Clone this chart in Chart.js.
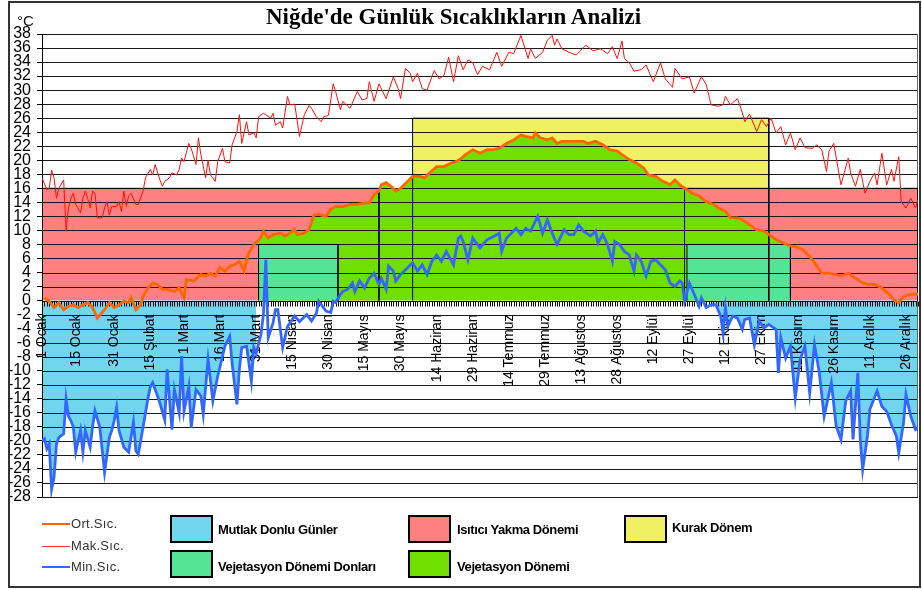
<!DOCTYPE html>
<html>
<head>
<meta charset="utf-8">
<script src="https://cdn.jsdelivr.net/npm/chart.js@4.4.1/dist/chart.umd.min.js"></script>
<style>
html,body{margin:0;padding:0;background:#fff;}
#wrap{position:relative;width:922px;height:590px;overflow:hidden;background:#fff;}
#c{position:absolute;left:0;top:0;}
#frame{position:absolute;left:8px;top:1px;width:909px;height:583px;border:2px solid #333;pointer-events:none;}
#title{position:absolute;left:0;width:907px;top:4px;text-align:center;font:bold 23px "Liberation Serif","Times New Roman",serif;line-height:26px;color:#000;}
#unit{position:absolute;left:17px;top:12px;font:15px "Liberation Sans",Arial,sans-serif;color:#111;}
.ll{position:absolute;left:42px;width:28px;}
.lt{position:absolute;left:71px;font:13px "Liberation Sans",Arial,sans-serif;color:#333;line-height:16px;letter-spacing:0.3px;}
.bx{position:absolute;width:39px;height:24px;border:2px solid #000;}
.bt{position:absolute;font:bold 13px "Liberation Sans",Arial,sans-serif;color:#000;letter-spacing:-0.4px;line-height:16px;}
</style>
</head>
<body>
<div id="wrap">
<canvas id="c" width="922" height="590"></canvas>
<div id="title">Niğde'de Günlük Sıcaklıkların Analizi</div>
<div id="unit">°C</div>
<div class="ll" style="top:523px;height:2px;background:#FF6600"></div>
<div class="lt" style="top:516px">Ort.Sıc.</div>
<div class="ll" style="top:546px;height:1px;background:#FF3030"></div>
<div class="lt" style="top:538px">Mak.Sıc.</div>
<div class="ll" style="top:566px;height:2px;background:#3366FF"></div>
<div class="lt" style="top:559px">Min.Sıc.</div>
<div class="bx" style="left:170px;top:515px;background:#72D5EE"></div>
<div class="bt" style="left:218px;top:522px">Mutlak Donlu Günler</div>
<div class="bx" style="left:170px;top:550px;background:#55E397"></div>
<div class="bt" style="left:218px;top:559px">Vejetasyon Dönemi Donları</div>
<div class="bx" style="left:408px;top:515px;background:#FF8080"></div>
<div class="bt" style="left:457px;top:522px">Isıtıcı Yakma Dönemi</div>
<div class="bx" style="left:408px;top:550px;background:#70E000"></div>
<div class="bt" style="left:457px;top:559px">Vejetasyon Dönemi</div>
<div class="bx" style="left:624px;top:515px;background:#F0F062"></div>
<div class="bt" style="left:672px;top:520px">Kurak Dönem</div>
<div id="frame"></div>
</div>
<script>
// ---- Data (day of year 1..365, °C) ----
const tickDays = [1,15,31,46,60,75,90,105,120,135,150,165,180,195,210,225,240,255,270,285,300,315,330,345,360];
const tickLabels = ['1 Ocak','15 Ocak','31 Ocak','15 Şubat','1 Mart','16 Mart','31 Mart','15 Nisan','30 Nisan','15 Mayıs','30 Mayıs','14 Haziran','29 Haziran','14 Temmuz','29 Temmuz','13 Ağustos','28 Ağustos','12 Eylül','27 Eylül','12 Ekim','27 Ekim','11 Kasım','26 Kasım','11 Aralık','26 Aralık'];

const avgDays = [2,4,6,8,10,12,14,16,18,20,22,24,27,29,31,33,35,37,38,40,42,43,45,47,49,51,53,56,58,60,61,64,67,69,71,73,75,77,79,81,83,85,86,87,89,91,92,93,95,97,100,102,104,106,107,110,112,114,116,119,121,123,126,129,132,135,137,139,141,142,144,146,148,150,153,155,158,160,162,165,168,171,173,175,177,180,183,186,188,191,194,197,200,202,205,206,208,211,213,215,217,220,223,226,228,231,234,237,240,242,245,248,251,253,256,259,262,264,266,269,271,274,277,280,282,285,287,290,293,295,298,301,304,306,309,312,314,317,320,322,325,328,331,333,336,339,342,344,347,350,353,355,357,359,362,365];
const avgTemps = [0.4,-0.1,-1,-0.3,-1.3,-0.8,-0.6,-1,-0.6,-0.3,-1,-2.5,-1.3,-0.3,-1,-0.6,-0.1,-0.3,0.4,-1.3,-0.6,0.6,1.8,2.5,2.3,1.6,1.6,1.3,1.8,0.4,3,2.8,3.7,3.5,3.9,3.5,4.7,4.2,4.9,5.1,5.6,4.2,5.8,6.8,8,8.6,9,9.9,8.9,9.4,9.6,9.2,9.6,10.1,9.4,9.6,10.1,12.2,12.3,12,13,13.4,13.4,13.7,13.7,13.9,13.9,15.1,15.6,16.5,16.8,16.3,15.6,16,17,17.7,17.7,17.5,18.2,19.1,19.1,19.6,19.8,20.2,20.8,21.5,21,21.5,21.5,21.7,22.4,22.9,23.6,23.4,23.2,23.9,23.2,22.9,23.2,22.4,22.7,22.7,22.7,22.7,22.4,22.7,22.2,21.5,21.3,20.8,20.1,19.6,18.9,17.9,17.7,17,16.5,17.2,16.5,15.8,15.3,14.9,14.1,13.7,13.2,12.7,11.8,11.8,11.3,10.8,10.1,9.9,9.2,8.7,8.2,7.8,7.7,7.3,6.3,5.4,3.9,3.9,3.7,3.5,3.9,3.2,2.5,2.3,2.3,1.8,0.9,0.1,-0.3,0.6,0.9,0.9];

const maxDays = [1,3,4,5,6,7,8,10,11,12,13,14,15,17,18,19,20,21,22,23,24,26,27,28,29,30,32,33,34,35,36,37,38,40,41,43,44,46,47,48,50,51,52,54,55,57,58,59,60,62,63,65,66,67,69,70,71,73,74,76,77,79,80,82,83,84,86,87,89,90,91,93,94,96,97,98,100,101,103,104,106,108,110,112,113,115,117,118,120,122,123,125,126,129,132,134,136,137,139,141,144,147,149,150,152,154,155,157,159,161,164,166,168,170,172,174,176,178,180,182,184,187,190,192,195,197,200,203,204,206,209,211,213,214,215,217,220,223,227,230,233,236,238,240,242,243,245,247,250,252,255,258,260,263,264,267,270,272,275,277,279,282,284,285,287,290,292,293,295,298,300,302,304,306,308,310,312,314,316,318,321,323,325,327,328,330,332,333,336,337,339,341,343,345,347,348,350,352,354,355,357,358,360,362,364,365];
const maxTemps = [17.5,15.8,16,18.6,17.5,14.6,16,17.2,9.9,13.2,14.5,15.3,13.7,12.5,14.6,15.6,14.5,13.2,15.6,15.3,11.8,11.8,13.2,14.1,12.2,13.4,13.4,14.1,12.7,15.6,13.4,14.9,15.3,13.7,13.7,15.6,17.5,18.7,17.9,19.4,17.2,16.3,17,17.5,18.2,17.9,18.7,20.3,19.8,22.4,21.7,19.4,23.2,20.8,17.5,20,17.9,17,19.8,21.7,19.8,19.6,22.2,24.1,26.5,22.4,25.5,23.6,23.9,23.2,26.2,26.7,26.5,26,26.7,25,25.5,24.6,29.1,27.9,28,23.4,26.5,27.8,27.4,26.2,25.5,26.2,26.4,30.9,29.8,27.2,28.4,27.4,29.8,28.6,28.8,31.2,28.4,30.9,28.8,31.9,30.2,28.8,33.1,32.4,31.2,32.4,30.2,30,32.8,31.6,32.1,34.7,31.2,34.9,32.9,34.3,33.9,32.2,33.4,32.9,35.4,33.4,35.4,35.2,37.8,34.5,35.9,34.5,35.4,37.1,37.8,36.4,37.3,35.9,35.4,35,36.4,35.6,35.9,35.2,36.2,34.5,37,34.5,33.9,32.7,32.9,33.6,31.2,33.9,31.6,30.4,33.1,31.6,31.9,29.6,31.9,30.8,27.9,27.7,27.9,29.1,27.9,28.8,26.8,25.5,26.6,24.1,25.8,24.8,26,23.9,24.8,22.2,23.9,21.5,23.2,21.8,21.7,22.2,21.5,18.4,21.3,22.4,18.4,16.5,20.3,18.2,16.3,18.7,15.3,17,18.2,16.5,21,16.5,18.7,17,20.5,14.1,13.2,14.6,13.2,14.4];

const minDays = [1,2,3,4,5,6,7,8,10,11,12,13,14,15,17,18,19,21,22,23,25,27,29,30,31,32,33,35,37,39,40,41,42,44,45,46,47,49,50,52,53,55,56,58,59,60,62,63,65,67,68,70,72,74,75,77,79,80,82,83,84,86,88,89,90,92,93,94,95,97,98,99,101,103,106,108,111,113,115,116,119,121,122,123,125,126,128,130,131,133,135,137,139,141,142,144,145,147,148,150,153,155,157,159,161,163,165,167,169,172,174,175,176,178,180,183,186,189,191,192,194,196,198,200,202,204,207,209,211,213,215,218,220,222,224,226,229,231,232,234,236,238,239,241,243,245,247,248,250,252,254,256,258,260,262,264,266,267,268,270,272,274,275,277,279,281,283,284,285,286,288,290,292,293,295,297,299,301,303,306,307,308,310,312,314,316,318,320,322,324,326,329,331,333,335,337,338,340,341,342,344,345,348,350,352,354,356,357,359,360,362,364,365];
const minTemps = [-20,-19.7,-21.1,-20.4,-26.9,-25.2,-20.5,-19.5,-19,-14,-16.5,-17.1,-18,-21.6,-18.5,-21.6,-18.5,-20.9,-18,-15.7,-18,-24.5,-19.5,-18.5,-17.1,-15.2,-18.5,-20.9,-21.6,-17.3,-21.4,-21.9,-20,-16,-14,-12.3,-11.7,-13.6,-14.6,-17,-9.8,-18.4,-12.7,-16,-7.9,-15.8,-12.2,-18.1,-12.7,-13.6,-16.2,-8.4,-14.3,-10.8,-9.4,-6.5,-5.1,-8.9,-14.8,-9.8,-6.7,-6.5,-11.5,-6.7,-7.5,-4.8,-2,5.8,-5.3,-3.2,-1.3,-1.3,-6.7,-3.7,-2.2,-3,-2,-2.9,-1.8,-0.1,-1.5,-1.7,-0.1,-0.3,0.9,1.3,1.6,2.5,1.3,2.8,1.8,3.2,3.9,2.3,3.2,1.6,4.9,4.2,2.8,3.7,4.7,5.4,4.2,5.1,3.7,5.6,6.5,5.6,7,5.1,8.9,9.2,8.4,5.8,8.9,7.5,8.7,9.2,9.6,7,8.9,9.6,10.3,9.4,10.3,9.9,12,9.6,11.5,9.6,8,10.1,9.4,9.4,10.8,9.9,9.2,9.9,8.2,9.4,8,5.6,8.4,8,7,6.5,4.2,6.5,5.6,3.5,5.6,5.8,5.1,4.4,2.5,2,2.8,2.5,-0.1,2.5,0.9,-0.8,0.4,-1,-0.6,-0.6,-2.2,-4.6,-1,-3.7,-2.2,-2.5,-4.1,-2.7,-2.5,-6.3,-2.9,-3.9,-3.4,-4.1,-10.3,-5.3,-8.2,-6.5,-13.9,-8.4,-6.5,-13.2,-6.3,-10.3,-16.5,-11.7,-17.9,-19.8,-14.3,-12.9,-19.8,-10.3,-19.8,-24.1,-19.3,-15.5,-12.9,-15.1,-15.8,-17.7,-19.3,-21.7,-17.4,-13.4,-16.5,-18.4,-18.2];

// Periods [startDay, endDay] and their upper limits (°C)
const heatingPeriods = [[1,141],[268,365]];
const heatingTop = 16;
const dryPeriods = [[155,303]];
const dryTop = 26;
const vegPeriod = [91,312];
const vegFrostPeriods = [[91,124],[269,312]];
const vegFrostTop = 8;
const frostPeriods = [[1,90],[279,365]];

const C = {
  frost:'#72D5EE', heat:'#FF8080', dry:'#F0F062', veg:'#70E000', vegFrost:'#55E397',
  avg:'#FF6600', max:'#FF1010', min:'#3366FF', grid:'#1a1a1a'
};

const pts = (days, vals) => days.map((d,i)=>({x:d, y:vals[i]}));
const within = (arr, p) => arr.filter(o => o.x >= p[0] && o.x <= p[1]);
const rect = (p, top) => [{x:p[0],y:0},{x:p[0],y:top},{x:p[1],y:top},{x:p[1],y:0}];

const avgPts = pts(avgDays, avgTemps);
const maxPts = pts(maxDays, maxTemps);
const minPts = pts(minDays, minTemps);

const base = {pointRadius:0, pointHoverRadius:0, tension:0};
const datasets = [
  Object.assign({label:'Min.Sıc.', data:minPts, borderColor:C.min, borderWidth:2.8, fill:false, order:0}, base),
  Object.assign({label:'Mak.Sıc.', data:maxPts, borderColor:C.max, borderWidth:1, fill:false, order:1}, base),
  Object.assign({label:'Ort.Sıc.', data:avgPts, borderColor:C.avg, borderWidth:2.8, fill:false, order:2}, base),
];
// outlines of the period boxes
heatingPeriods.forEach(p => datasets.push(Object.assign({label:'', data:rect(p,heatingTop), borderColor:'#000', borderWidth:1, fill:false, order:4}, base)));
dryPeriods.forEach(p => datasets.push(Object.assign({label:'', data:rect(p,dryTop), borderColor:'#000', borderWidth:1, fill:false, order:4}, base)));
vegFrostPeriods.forEach(p => datasets.push(Object.assign({label:'', data:rect(p,vegFrostTop), borderColor:'#000', borderWidth:1, fill:false, order:4}, base)));
// filled areas
frostPeriods.forEach(p => datasets.push(Object.assign({label:'Mutlak Donlu Günler', data:within(minPts,p), borderWidth:0, borderColor:'rgba(0,0,0,0)', fill:{target:'origin', above:'rgba(0,0,0,0)', below:C.frost}, order:5}, base)));
vegFrostPeriods.forEach(p => datasets.push(Object.assign({label:'Vejetasyon Dönemi Donları', data:rect(p,vegFrostTop), borderWidth:0, borderColor:'rgba(0,0,0,0)', backgroundColor:C.vegFrost, fill:'origin', order:6}, base)));
datasets.push(Object.assign({label:'Vejetasyon Dönemi', data:within(avgPts,vegPeriod), borderWidth:0, borderColor:'rgba(0,0,0,0)', backgroundColor:C.veg, fill:'origin', order:7}, base));
heatingPeriods.forEach(p => datasets.push(Object.assign({label:'Isıtıcı Yakma Dönemi', data:rect(p,heatingTop), borderWidth:0, borderColor:'rgba(0,0,0,0)', backgroundColor:C.heat, fill:'origin', order:8}, base)));
dryPeriods.forEach(p => datasets.push(Object.assign({label:'Kurak Dönem', data:rect(p,dryTop), borderWidth:0, borderColor:'rgba(0,0,0,0)', backgroundColor:C.dry, fill:'origin', order:9}, base)));

let gridDone = false;
const overlay = {
  id:'overlay',
  beforeDatasetsDraw(){ gridDone = false; },
  beforeDatasetDraw(chart, args){
    if (gridDone || chart.data.datasets[args.index].order > 4) return;
    gridDone = true;
    const {ctx, chartArea:a, scales:{x, y}} = chart;
    ctx.save();
    ctx.strokeStyle = C.grid; ctx.lineWidth = 1;
    ctx.beginPath();
    y.ticks.forEach(t => {
      const py = Math.round(y.getPixelForValue(t.value)) + 0.5;
      ctx.moveTo(a.left, py); ctx.lineTo(a.right, py);
    });
    ctx.stroke();
    ctx.strokeStyle = '#000';
    ctx.beginPath();
    ctx.moveTo(Math.round(a.left)+0.5, a.top); ctx.lineTo(Math.round(a.left)+0.5, a.bottom);
    ctx.stroke();
    ctx.strokeStyle = '#666';
    ctx.beginPath();
    ctx.moveTo(Math.round(a.right)-0.5, a.top); ctx.lineTo(Math.round(a.right)-0.5, a.bottom);
    ctx.stroke();
    const y0 = Math.round(y.getPixelForValue(0)) + 0.5;
    ctx.strokeStyle = '#000';
    ctx.beginPath();
    for (let d = 1; d <= 365; d++) {
      const px = Math.round(x.getPixelForValue(d)) + 0.5;
      ctx.moveTo(px, y0); ctx.lineTo(px, y0 + 5);
    }
    ctx.stroke();
    ctx.fillStyle = '#000';
    ctx.font = '14px "Liberation Sans", Arial, sans-serif';
    ctx.textAlign = 'right'; ctx.textBaseline = 'middle';
    tickDays.forEach((d, i) => {
      ctx.save();
      ctx.translate(x.getPixelForValue(d), y0 + 13);
      ctx.rotate(-Math.PI/2);
      ctx.fillText(tickLabels[i], 0, 0);
      ctx.restore();
    });
    ctx.restore();
  }
};

Chart.defaults.font.family = '"Liberation Sans", Arial, sans-serif';
new Chart(document.getElementById('c'), {
  type:'line',
  data:{datasets},
  options:{
    responsive:false, animation:false, devicePixelRatio:1,
    layout:{padding:{left:0, top:34, right:4, bottom:93}},
    plugins:{legend:{display:false}, tooltip:{enabled:false}, title:{display:false}},
    scales:{
      x:{type:'linear', min:1, max:365, display:false},
      y:{type:'linear', min:-28, max:38,
         ticks:{stepSize:2, autoSkip:false, color:'#000', font:{size:16, lineHeight:1}, padding:6},
         grid:{drawOnChartArea:false, drawTicks:true, tickLength:5, color:'#000'},
         border:{display:true, color:'#000'},
         afterFit(s){ s.width = 42; }}
    }
  },
  plugins:[overlay]
});
</script>
</body>
</html>
